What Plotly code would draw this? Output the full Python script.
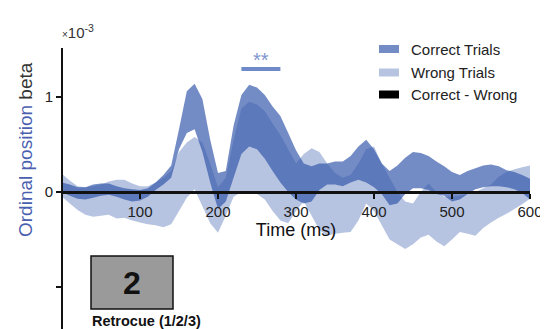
import plotly.graph_objects as go

# ---------------- data (units of 1e-3) ----------------
time_ms = list(range(0, 610, 10))

correct_upper = [0.10, 0.08, 0.05, 0.05, 0.08, 0.09, 0.09, 0.06, 0.04, 0.03,
                 0.02, 0.04, 0.10, 0.18, 0.28, 0.66, 1.06, 1.14, 0.98, 0.55,
                 0.20, 0.22, 0.70, 1.02, 1.13, 1.10, 1.02, 0.90, 0.80, 0.62,
                 0.44, 0.30, 0.27, 0.30, 0.30, 0.32, 0.32, 0.38, 0.48, 0.55,
                 0.45, 0.30, 0.22, 0.28, 0.36, 0.42, 0.41, 0.38, 0.32, 0.27,
                 0.21, 0.18, 0.22, 0.25, 0.28, 0.29, 0.27, 0.23, 0.21, 0.18,
                 0.14]
correct_lower = [0.00, -0.04, -0.07, -0.08, -0.06, -0.04, -0.03, -0.05, -0.08, -0.10,
                 -0.09, -0.05, 0.02, 0.08, 0.15, 0.45, 0.62, 0.66, 0.42, 0.10,
                 -0.18, -0.10, 0.15, 0.40, 0.48, 0.45, 0.35, 0.22, 0.10, 0.00,
                 -0.08, -0.12, -0.10, 0.02, 0.08, 0.08, 0.06, 0.10, 0.13, 0.10,
                 0.05, -0.02, -0.14, -0.12, -0.02, 0.04, 0.04, 0.02, -0.02, -0.04,
                 -0.10, -0.08, -0.02, 0.03, 0.05, 0.06, 0.06, 0.05, 0.03, -0.01,
                 -0.08]
wrong_upper = [0.19, 0.12, 0.06, 0.05, 0.06, 0.08, 0.11, 0.13, 0.13, 0.09,
               0.06, 0.06, 0.10, 0.15, 0.22, 0.42, 0.52, 0.58, 0.52, 0.30,
               0.05, 0.15, 0.55, 0.88, 0.95, 0.92, 0.85, 0.72, 0.60, 0.45,
               0.30, 0.40, 0.46, 0.42, 0.30, 0.20, 0.15, 0.18, 0.30, 0.45,
               0.48, 0.30, 0.15, 0.00, -0.10, -0.12, 0.00, 0.09, 0.00, -0.05,
               -0.05, -0.04, -0.02, 0.00, 0.04, 0.08, 0.16, 0.21, 0.24, 0.26,
               0.28]
wrong_lower = [-0.05, -0.12, -0.19, -0.24, -0.26, -0.25, -0.24, -0.28, -0.27, -0.30,
               -0.32, -0.34, -0.35, -0.37, -0.34, -0.20, -0.06, 0.03, -0.15, -0.33,
               -0.43, -0.25, -0.05, 0.00, 0.00, -0.02, -0.08, -0.20, -0.30, -0.33,
               -0.20, -0.10, -0.25, -0.40, -0.46, -0.44, -0.43, -0.42, -0.30, -0.12,
               -0.20, -0.35, -0.50, -0.55, -0.60, -0.55, -0.48, -0.45, -0.52, -0.57,
               -0.50, -0.42, -0.44, -0.46, -0.38, -0.32, -0.27, -0.23, -0.18, -0.13,
               -0.07]

sig_x = [230, 280]
sig_y = [1.295, 1.295]
sig_label = "**"

x_ticks = [100, 200, 300, 400, 500, 600]
y_ticks = [0, 1]
y_minor_ticks = [-1]

legend_names = ["Correct Trials", "Wrong Trials", "Correct - Wrong"]

# ---------------- styling ----------------
FONT = "Liberation Sans, Arial, Helvetica, sans-serif"
BASE = "50,85,170"
C_CORRECT = f"rgba({BASE},0.68)"
C_WRONG = f"rgba({BASE},0.35)"
C_DIFF = "#000000"

OFF = 8                      # page body margin of the html page
W, H = 548 - OFF, 329 - OFF
ML, MR, MT, MB = 62 - OFF, 18, 48 - OFF, 0
YMIN, YMAX = -1.442, 1.516


def px2x(px):
    return (px - OFF - ML) / (W - ML - MR)


def py2y(py):
    return (H - MB - (py - OFF)) / (H - MT - MB)


def band(upper, lower):
    xs = time_ms + time_ms[::-1]
    ys = upper + lower[::-1]
    return xs, ys


fig = go.Figure()

xs, ys = band(correct_upper, correct_lower)
fig.add_trace(go.Scatter(x=xs, y=ys, fill="toself", mode="none",
                         fillcolor=C_CORRECT, name=legend_names[0],
                         showlegend=False, hoverinfo="skip"))
xs, ys = band(wrong_upper, wrong_lower)
fig.add_trace(go.Scatter(x=xs, y=ys, fill="toself", mode="none",
                         fillcolor=C_WRONG, name=legend_names[1],
                         showlegend=False, hoverinfo="skip"))

fig.add_trace(go.Scatter(x=sig_x, y=sig_y, mode="lines",
                         line=dict(color="#6f8ac8", width=4),
                         showlegend=False, hoverinfo="skip"))
fig.add_annotation(x=sum(sig_x) / 2, y=sig_y[0], yshift=-4, text=sig_label,
                   showarrow=False, yanchor="bottom",
                   font=dict(family=FONT, size=20, color="#7f96cf"))

shapes = []
annotations = []

# custom legend
leg_y = [49, 72.5, 94.5]
leg_col = [C_CORRECT, C_WRONG, C_DIFF]
for name, yc, col in zip(legend_names, leg_y, leg_col):
    shapes.append(dict(type="rect", xref="paper", yref="paper",
                       x0=px2x(379), x1=px2x(399), y0=py2y(yc - 4), y1=py2y(yc + 4),
                       fillcolor=col, line=dict(width=0)))
    annotations.append(dict(xref="paper", yref="paper", x=px2x(409), y=py2y(yc),
                            xanchor="left", yanchor="middle", showarrow=False,
                            text=name, font=dict(family=FONT, size=15, color="#222")))

# retrocue icon
shapes.append(dict(type="rect", xref="paper", yref="paper",
                   x0=px2x(91), x1=px2x(173), y0=py2y(309), y1=py2y(256),
                   fillcolor="#9a9a9a", line=dict(color="#111", width=1.5)))
annotations.append(dict(xref="paper", yref="paper", x=px2x(132), y=py2y(283),
                        xanchor="center", yanchor="middle", showarrow=False,
                        text="<b>2</b>", font=dict(family=FONT, size=32, color="#111")))
annotations.append(dict(xref="paper", yref="paper", x=px2x(90), y=py2y(320.5),
                        xanchor="left", yanchor="middle", showarrow=False,
                        text="<b>Retrocue (1/2/3)</b>",
                        font=dict(family=FONT, size=14.5, color="#111")))

# exponent label
annotations.append(dict(xref="paper", yref="paper", x=px2x(60), y=py2y(32),
                        xanchor="left", yanchor="middle", showarrow=False,
                        text="<span style='font-size:10px'>×</span>10<sup>-3</sup>",
                        font=dict(family=FONT, size=15, color="#333")))

# y-axis title (two colours)
annotations.append(dict(xref="paper", yref="paper", x=px2x(25), y=py2y(150),
                        xanchor="center", yanchor="middle", showarrow=False,
                        textangle=-90,
                        text="<span style='color:#4b5fb0'>Ordinal position</span> beta",
                        font=dict(family=FONT, size=19, color="#333")))

for a in annotations:
    fig.add_annotation(**a)

x_pos = (0 - YMIN) / (YMAX - YMIN)

fig.update_layout(
    width=W, height=H,
    margin=dict(l=ML, r=MR, t=MT, b=MB, pad=0),
    paper_bgcolor="white", plot_bgcolor="white",
    showlegend=False,
    shapes=shapes,
    font=dict(family=FONT, color="#222"),
    xaxis=dict(range=[0, 600], anchor="free", position=x_pos,
               showline=True, linecolor="#111", linewidth=2.5,
               ticks="outside", ticklen=5, tickwidth=2, tickcolor="#111",
               tickvals=x_ticks, tickfont=dict(size=15, color="#222"),
               showgrid=False, zeroline=False, automargin=False,
               title=dict(text="Time (ms)", font=dict(size=18, color="#111"), standoff=3)),
    yaxis=dict(range=[YMIN, YMAX], anchor="free", position=0,
               showline=True, linecolor="#111", linewidth=2,
               ticks="outside", ticklen=5, tickwidth=2, tickcolor="#111",
               tickvals=y_ticks,
               minor=dict(tickvals=y_minor_ticks, ticks="outside", ticklen=5,
                          tickwidth=2, tickcolor="#111", showgrid=False),
               tickfont=dict(size=15, color="#222"),
               showgrid=False, zeroline=False, automargin=False),
)

fig.write_html("out.html")
